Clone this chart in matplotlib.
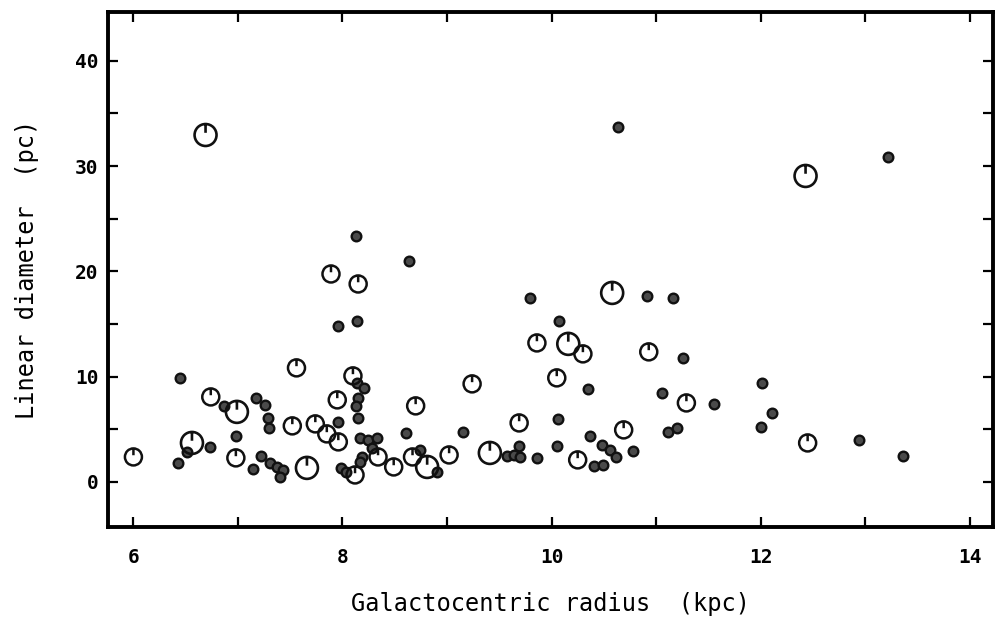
import numpy as np
import matplotlib.pyplot as plt
from matplotlib.path import Path

# small filled dots
small_r = [10.64, 13.22, 8.13, 8.64, 7.96, 8.14, 9.79, 10.91, 11.16, 10.07, 11.26,
           6.45, 6.87, 6.98, 6.43, 6.51, 6.73, 7.17, 7.26, 7.29, 7.30, 7.96,
           7.14, 7.22, 7.31, 7.37, 7.43, 7.40, 7.99, 8.03, 8.14, 8.21, 8.15, 8.13,
           8.15, 8.17, 8.24, 8.33, 8.28, 8.19, 8.17, 8.61, 8.74, 8.90, 9.15,
           9.57, 9.64, 9.70, 9.69, 9.86, 10.35, 11.06, 10.06, 11.11, 10.37, 10.48,
           10.56, 10.62, 10.78, 10.41, 10.49, 10.05, 12.01, 11.55, 12.11, 12.00,
           11.20, 12.94, 13.36]
small_d = [33.7, 30.86, 23.36, 20.99, 14.81, 15.29, 17.47, 17.66, 17.47, 15.29, 11.78,
           9.88, 7.22, 4.37, 1.80, 2.85, 3.32, 7.98, 7.31, 6.08, 5.13, 5.70,
           1.23, 2.47, 1.80, 1.42, 1.14, 0.47, 1.33, 0.95, 9.40, 8.93, 7.98, 7.22,
           6.08, 4.18, 3.99, 4.18, 3.23, 2.37, 1.90, 4.65, 3.04, 0.95, 4.75,
           2.47, 2.56, 2.37, 3.42, 2.28, 8.83, 8.45, 5.98, 4.75, 4.37, 3.51,
           3.04, 2.37, 2.94, 1.52, 1.61, 3.42, 9.40, 7.41, 6.55, 5.22,
           5.13, 3.99, 2.47]

# medium open circles
med_r = [7.89, 8.15, 9.86, 10.30, 10.93, 6.74, 6.98, 6.00, 7.52, 7.74, 7.85, 7.96,
         8.12, 7.56, 7.95, 8.10, 8.34, 8.49, 8.70, 8.67, 9.02, 9.24, 9.69, 10.05,
         10.69, 10.25, 11.29, 12.45]
med_d = [19.75, 18.80, 13.20, 12.16, 12.35, 8.07, 2.28, 2.37, 5.32, 5.51, 4.56, 3.80,
         0.66, 10.83, 7.79, 10.07, 2.37, 1.42, 7.22, 2.37, 2.56, 9.31, 5.60, 9.88,
         4.94, 2.09, 7.50, 3.70]

# large open circles
big_r = [6.69, 12.43, 10.58, 10.16, 6.99, 6.56, 7.66, 8.81, 9.41]
big_d = [32.95, 29.06, 17.95, 13.11, 6.65, 3.70, 1.33, 1.42, 2.75]

# circle with a short stroke hanging from the top
ring = Path.make_compound_path(Path.unit_circle(),
                               Path([(0, 1), (0, 0.2)], [Path.MOVETO, Path.LINETO]))

fig = plt.figure(figsize=(10.03, 6.18), dpi=100)
ax = fig.add_axes([0.1077, 0.147, 0.882, 0.833])

ax.scatter(small_r, small_d, s=48, marker='o', facecolor='#4a4a4a',
           edgecolor='#111111', linewidths=1.7, zorder=3)
ax.scatter(med_r, med_d, s=150, marker=ring, facecolor='none',
           edgecolor='#111111', linewidths=1.8, zorder=4)
ax.scatter(big_r, big_d, s=250, marker=ring, facecolor='none',
           edgecolor='#111111', linewidths=1.9, zorder=4)

ax.set_xlim(5.757, 14.22)
ax.set_ylim(-4.3, 44.6)

for s in ax.spines.values():
    s.set_linewidth(2.8)

ax.set_xticks([6, 8, 10, 12, 14])
ax.set_xticks([7, 9, 11, 13], minor=True)
ax.set_yticks([0, 10, 20, 30, 40])
ax.set_yticks([5, 15, 25, 35], minor=True)
ax.tick_params(which='both', direction='in', top=True, right=True,
               length=7, width=1.6)
ax.tick_params(axis='x', which='major', pad=15)
ax.tick_params(axis='y', which='major', pad=7)

for lab in ax.get_xticklabels() + ax.get_yticklabels():
    lab.set_fontfamily('DejaVu Sans Mono')
    lab.set_fontweight('bold')
    lab.set_fontsize(14)

ax.set_xlabel('Galactocentric radius  (kpc)', family='DejaVu Sans Mono',
              fontsize=17, labelpad=18)
ax.set_ylabel('Linear diameter  (pc)', family='DejaVu Sans Mono',
              fontsize=17, labelpad=26)

fig.savefig('out.png', dpi=100)
